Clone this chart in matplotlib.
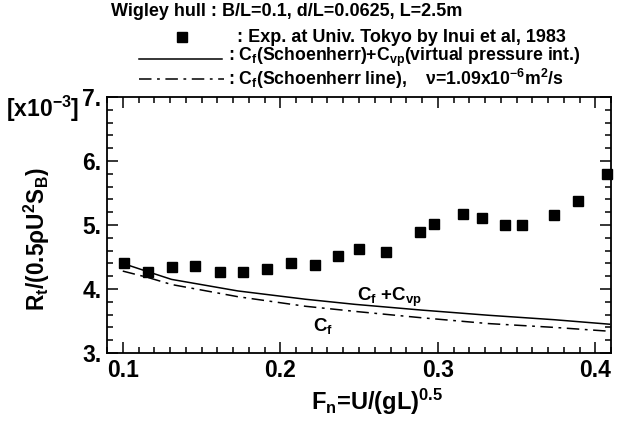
import matplotlib
matplotlib.use("Agg")
import matplotlib.pyplot as plt
from matplotlib.ticker import MultipleLocator, FuncFormatter

plt.rcParams['font.family'] = ['Liberation Sans', 'DejaVu Sans']
plt.rcParams['font.weight'] = 'bold'
plt.rcParams['mathtext.fontset'] = 'custom'
plt.rcParams['mathtext.rm'] = 'Liberation Sans:bold'
plt.rcParams['mathtext.it'] = 'Liberation Sans:bold'
plt.rcParams['mathtext.bf'] = 'Liberation Sans:bold'
plt.rcParams['lines.scale_dashes'] = False

# Experimental data (Inui et al, 1983), values in 1e-3
exp_fn = [0.101, 0.116, 0.131, 0.146, 0.1616, 0.1766, 0.1918, 0.207, 0.222,
          0.2369, 0.2498, 0.267, 0.2889, 0.2977, 0.316, 0.3283, 0.343,
          0.3536, 0.3738, 0.3888, 0.4074]
exp_rt = [4.40, 4.26, 4.34, 4.36, 4.26, 4.26, 4.32, 4.40, 4.37,
          4.52, 4.62, 4.575, 4.886, 5.02, 5.166, 5.11, 4.995,
          4.995, 5.15, 5.38, 5.79]

# Cf + Cvp (solid)
cfvp_fn = [0.100, 0.116, 0.131, 0.173, 0.216, 0.2475, 0.290, 0.332, 0.374, 0.409]
cfvp_rt = [4.40, 4.27, 4.15, 3.97, 3.84, 3.76, 3.67, 3.59, 3.52, 3.45]

# Cf Schoenherr (dash-dot)
cf_fn = [0.100, 0.116, 0.131, 0.173, 0.216, 0.2496, 0.290, 0.332, 0.374, 0.409]
cf_rt = [4.28, 4.18, 4.07, 3.88, 3.73, 3.645, 3.55, 3.46, 3.40, 3.34]

x_ticks = [0.1, 0.2, 0.3, 0.4]
y_ticks = [3, 4, 5, 6, 7]

fig = plt.figure(figsize=(6.21, 4.25), dpi=100)
ax = fig.add_axes([107/621, 1-353/425, 504/621, 256/425])

ax.plot(exp_fn, exp_rt, linestyle='none', marker='s', ms=7, color='black', clip_on=False)
ax.plot(cfvp_fn, cfvp_rt, color='black', lw=1.1, clip_on=True)
ax.plot(cf_fn, cf_rt, color='black', lw=1.1, dashes=[9, 4, 2, 4], clip_on=True)

ax.set_xlim(0.09, 0.41)
ax.set_ylim(3, 7)
ax.set_xticks(x_ticks)
ax.set_yticks(y_ticks)
ax.xaxis.set_minor_locator(MultipleLocator(0.01))
ax.yaxis.set_minor_locator(MultipleLocator(0.2))
ax.xaxis.set_major_formatter(FuncFormatter(lambda v, p: f"{v:.1f}"))
ax.yaxis.set_major_formatter(FuncFormatter(lambda v, p: f"{int(round(v))}."))
ax.tick_params(which='both', direction='in', top=True, right=True, width=1.1)
ax.tick_params(which='major', length=8, labelsize=16.5, pad=4)
ax.tick_params(which='minor', length=4)
for s in ax.spines.values():
    s.set_linewidth(1.3)
for lab in ax.get_xticklabels() + ax.get_yticklabels():
    lab.set_fontweight('bold')

ax.text(0.2487, 3.875, r"C$_\mathrm{f}$ +C$_\mathrm{vp}$", fontsize=13.5, fontweight='bold',
        ha='left', va='center')
ax.text(0.2208, 3.42, r"C$_\mathrm{f}$", fontsize=13.5, fontweight='bold',
        ha='left', va='center')

# axis labels
fig.text(37/621, 1-239/425, r"R$_\mathrm{t}$/(0.5ρU$^\mathrm{2}$S$_\mathrm{B}$)", rotation=90,
         fontsize=16.3, fontweight='bold', ha='center', va='center')
fig.text(6/621, 1-109/425, r"[x10$^\mathrm{-3}$]", fontsize=16.5, fontweight='bold',
         ha='left', va='center')
fig.text(377/621, 1-402/425, r"F$_\mathrm{n}$=U/(gL)$^\mathrm{0.5}$", fontsize=17,
         fontweight='bold', ha='center', va='center')

# title and legend
fig.text(111/621, 1-12/425, "Wigley hull : B/L=0.1, d/L=0.0625, L=2.5m", fontsize=13,
         fontweight='bold', ha='left', va='center')
fig.lines.append(plt.Line2D([182.5/621], [1-37/425], marker='s', ms=7, color='black',
                            linestyle='none', transform=fig.transFigure))
fig.text(237/621, 1-37/425, ": Exp. at Univ. Tokyo by Inui et al, 1983", fontsize=13,
         fontweight='bold', ha='left', va='center')
fig.lines.append(plt.Line2D([139/621, 222/621], [1-59/425, 1-59/425], color='black', lw=1.1,
                            transform=fig.transFigure))
fig.text(228/621, 1-57/425, r": C$_\mathrm{f}$(Schoenherr)+C$_\mathrm{vp}$(virtual pressure int.)",
         fontsize=12.7, fontweight='bold', ha='left', va='center')
fig.lines.append(plt.Line2D([139/621, 224/621], [1-79/425, 1-79/425], color='black', lw=1.1,
                            dashes=[9, 4, 2, 4], transform=fig.transFigure))
fig.text(228/621, 1-79/425, r": C$_\mathrm{f}$(Schoenherr line),    ν=1.09x10$^\mathrm{-6}$m$^\mathrm{2}$/s",
         fontsize=12.7, fontweight='bold', ha='left', va='center')

fig.savefig("out.png", dpi=100)
